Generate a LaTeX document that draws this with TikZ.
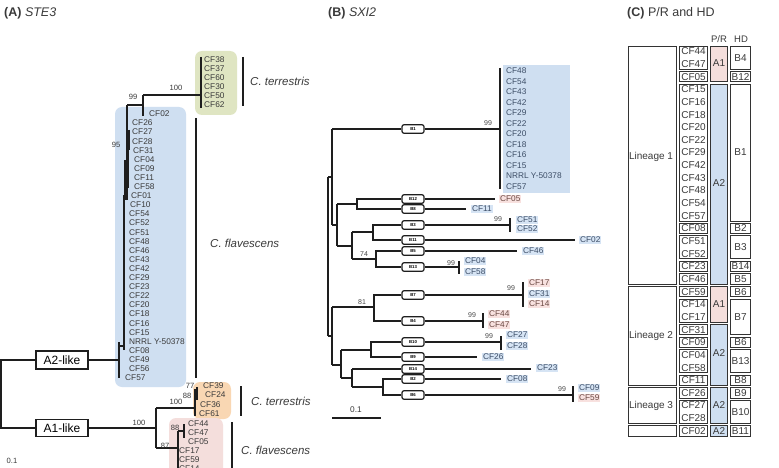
\documentclass[tikz,border=0pt]{standalone}
\usepackage{fontspec}
\setmainfont{Liberation Sans}
\definecolor{boxblue}{HTML}{CFDFF1}
\definecolor{boxgreen}{HTML}{DFE5C2}
\definecolor{boxorange}{HTML}{F9D7B3}
\definecolor{boxpink}{HTML}{F4DEDC}
\definecolor{hlblue}{HTML}{D6E4F4}
\definecolor{hlpink}{HTML}{F8E1DF}
\definecolor{txt}{HTML}{3A3A3A}
\definecolor{txtblue}{HTML}{3C4D66}
\definecolor{txtpink}{HTML}{6B4A44}
\definecolor{lineg}{HTML}{1E1E1E}
\definecolor{bsgray}{HTML}{4A4A4A}
\definecolor{cellline}{HTML}{333333}
\begin{document}
\begin{tikzpicture}[x=1pt,y=-1pt,
  treeA/.style={line width=1.1pt, draw=lineg},
  treeB/.style={line width=1.5pt, draw=lineg},
  lblA/.style={anchor=west, inner sep=0pt, font=\fontsize{8.3}{9}\selectfont, text=txt},
  lblB/.style={anchor=west, inner sep=0.9pt, font=\fontsize{8.3}{9}\selectfont},
  bsA/.style={inner sep=0pt, font=\fontsize{7.6}{8}\selectfont, text=txt},
  bsB/.style={inner sep=0pt, font=\fontsize{7}{8}\selectfont, text=bsgray},
  hbox/.style={draw=lineg, line width=1.2pt, fill=white, rounded corners=2pt, minimum width=22pt, minimum height=8.5pt, inner sep=0pt, font=\fontsize{4.3}{5}\selectfont\bfseries},
  likebox/.style={draw=lineg, line width=1.5pt, fill=white, minimum width=52pt, inner sep=0pt, font=\fontsize{12}{13}\selectfont},
  species/.style={anchor=west, inner sep=0pt, font=\fontsize{11.5}{12}\selectfont\itshape, text=txt},
  ttl/.style={anchor=west, inner sep=0pt, font=\fontsize{12.5}{13}\selectfont, text=txt},
  sbar/.style={line width=2.4pt, draw=lineg},
  cell/.style={draw=cellline, line width=1pt},
  ctext/.style={inner sep=0pt, font=\fontsize{10}{11}\selectfont, text=txt}
]
\useasboundingbox (0,0) rectangle (779,468);
\fill[white] (0,0) rectangle (779,468);
\begin{scope}
\clip (0,0) rectangle (779,468);

% ================= titles
\node[ttl] (tA) at (4,13) {\textbf{(A)} \textit{STE3}};
\node[ttl] (tB) at (328,13) {\textbf{(B)} \textit{SXI2}};
\node[ttl] (tC) at (627,13) {\textbf{(C)} P/R and HD};

% ================= PANEL A
\fill[boxblue, rounded corners=7pt] (115,107) rectangle (186,387);
\fill[boxgreen, rounded corners=7pt] (195,51) rectangle (237,115);
\fill[boxorange, rounded corners=7pt] (193,382) rectangle (231,419);
\fill[boxpink, rounded corners=7pt] (169,418) rectangle (223,490);

% green clade labels
\foreach \t [count=\i] in {CF38,CF37,CF60,CF30,CF50,CF62}
  \node[lblA] (ag\i) at (204,{60+9*(\i-1)}) {\t};
% blue clade labels
\foreach \t/\x [count=\i] in {CF26/132,CF27/132,CF28/132,CF31/133,CF04/134,CF09/134,CF11/134,CF58/134,CF01/131,CF10/130,CF54/129,CF52/129,CF51/129,CF48/129,CF46/129,CF43/129,CF42/129,CF29/129,CF23/129,CF22/129,CF20/129,CF18/129,CF16/129,CF15/129,NRRL Y-50378/129,CF08/129,CF49/129,CF56/129,CF57/125}
  \node[lblA] (ab\i) at (\x,{123+9.1*(\i-1)}) {\t};
\node[lblA] (acf02) at (149,114) {CF02};
% orange clade labels
\node[lblA] (ao1) at (203,386) {CF39};
\node[lblA] (ao2) at (205,395) {CF24};
\node[lblA] (ao3) at (200,405) {CF36};
\node[lblA] (ao4) at (199,414) {CF61};
% pink clade labels
\node[lblA] (ap1) at (188,424) {CF44};
\node[lblA] (ap2) at (188,433) {CF47};
\node[lblA] (ap3) at (188,442) {CF05};
\node[lblA] (ap4) at (179,451) {CF17};
\node[lblA] (ap5) at (179,460) {CF59};
\node[lblA] (ap6) at (179,469) {CF14};

% like boxes
\node[likebox, minimum height=18pt] (A2) at (62,360) {A2-like};
\node[likebox, minimum height=17pt] (A1) at (62,428) {A1-like};

% tree A
\coordinate (aroot) at (1,394);
\draw[treeA] (A2.west) -| (aroot) |- (A1.west);
\coordinate (aflav) at (119,360);
\draw[treeA] (A2.east) -- (aflav);
\draw[treeA] (119,342) -- (119,378);
\draw[treeA] (119,346) -- (124,346);
\draw[treeA] (124,350) -- (124,196) -- (127,196);
\draw[treeA] (127,200) -- (127,105);
\coordinate (a99) at (127,105);
\coordinate (a143) at (143,105);
\draw[treeA] (a99) -- (a143);
\draw[treeA] (143,95) -- (143,116);
\draw[treeA] (143,95) -- (201,95);
\draw[treeA] (201,57) -- (201,108);
\draw[line width=2.2pt, lineg] (129,130) -- (129,150);
\draw[line width=1.6pt, lineg] (128,150) -- (128,188);
\draw[line width=1.4pt, lineg] (125,160) -- (125,200);
\draw[treeA] (127,140) -- (129,140);
% bootstrap A
\node[bsA] (bs1) at (176,88) {100};
\node[bsA] (bs2) at (133,97) {99};
\node[bsA] (bs3) at (116,145) {95};
% A1 part
\coordinate (a156) at (156,428);
\draw[treeA] (A1.east) -- (a156);
\draw[treeA] (156,408) -- (156,448);
\draw[treeA] (156,408) -- (195,408);
\draw[treeA] (195,389) -- (195,416);
\draw[line width=1.4pt, lineg] (197,387) -- (197,400);
\draw[treeA] (195,396) -- (197,396);
\draw[treeA] (156,448) -- (178,448);
\draw[treeA] (178,431) -- (178,480);
\draw[treeA] (178,431) -- (184,431);
\draw[treeA] (184,424) -- (184,438);
\node[bsA] (bs4) at (139,423) {100};
\node[bsA] (bs5) at (176,402) {100};
\node[bsA] (bs6) at (190,386) {77};
\node[bsA] (bs7) at (187,396) {88};
\node[bsA] (bs8) at (175,428) {88};
\node[bsA] (bs9) at (165,446) {87};
\node[bsA] (scaleA) at (12,461) {0.1};

% species bars A
\draw[sbar] (243,57) -- (243,106);
\node[species] (sp1) at (250,81) {C. terrestris};
\draw[sbar] (196,118) -- (196,378);
\node[species] (sp2) at (210,243) {C. flavescens};
\draw[sbar] (241,386) -- (241,416);
\node[species] (sp3) at (251,401) {C. terrestris};
\draw[sbar] (232,422) -- (232,480);
\node[species] (sp4) at (241,450) {C. flavescens};

% ================= PANEL B
\fill[boxblue] (503,65) rectangle (570,193);
\foreach \t [count=\i] in {CF48,CF54,CF43,CF42,CF29,CF22,CF20,CF18,CF16,CF15,NRRL Y-50378,CF57}
  \node[lblB, text=txtblue] (bb\i) at (505,{71+10.5*(\i-1)}) {\t};
\draw[treeB] (500,68) -- (500,189);

% highlighted tip labels
\foreach \t/\x/\y/\c [count=\i] in {CF05/499/199/pink, CF11/471/209/blue, CF51/516/220/blue, CF52/516/229/blue, CF02/579/240/blue, CF46/522/251/blue, CF04/464/261/blue, CF58/464/272/blue, CF17/528/283/pink, CF31/528/294/blue, CF14/528/304/pink, CF44/488/314/pink, CF47/488/325/pink, CF27/506/335/blue, CF28/506/346/blue, CF26/482/357/blue, CF23/536/368/blue, CF08/506/379/blue, CF09/578/388/blue, CF59/578/398/pink}
  \node[lblB, fill=hl\c, text=txt\c] (bt\i) at (\x,\y) {\t};

% HD boxes
\foreach \n/\y in {1/129, 12/199, 8/209, 3/225, 11/240, 5/251, 13/267, 7/295, 4/321, 10/342, 9/357, 14/369, 2/379, 6/395}
  \node[hbox] (hb\n) at (413,\y) {B\n};

% tree B
\coordinate (rt) at (328,256);
\draw[treeB] (328,177) -- (328,336);
\draw[treeB] (328,177) -- (332,177);
\draw[treeB] (332,129) -- (332,225);
\draw[treeB] (332,129) -- (hb1.west);
\draw[treeB] (hb1.east) -- (500,129);
\draw[treeB] (332,225) -- (337,225);
\draw[treeB] (337,204) -- (337,246);
\draw[treeB] (337,204) -- (357,204);
\draw[treeB] (hb12.west) -| (357,204) |- (hb8.west);
\draw[treeB] (hb12.east) -- (495,199);
\draw[treeB] (hb8.east) -- (466,209);
\draw[treeB] (337,246) -- (352,246);
\draw[treeB] (352,232) -- (352,259);
\draw[treeB] (352,232) -- (373,232);
\draw[treeB] (hb3.west) -| (373,232) |- (hb11.west);
\draw[treeB] (hb3.east) -- (510,225);
\draw[treeB] (hb11.east) -- (575,240);
\draw[treeB] (352,259) -- (376,259);
\draw[treeB] (hb5.west) -| (376,259) |- (hb13.west);
\draw[treeB] (hb5.east) -- (517,251);
\draw[treeB] (hb13.east) -- (459,267);
\draw[treeB] (328,336) -- (332,336);
\draw[treeB] (332,307) -- (332,365);
\draw[treeB] (332,307) -- (374,307);
\draw[treeB] (hb7.west) -| (374,307) |- (hb4.west);
\draw[treeB] (hb7.east) -- (523,295);
\draw[treeB] (hb4.east) -- (483,321);
\draw[treeB] (332,365) -- (341,365);
\draw[treeB] (341,350) -- (341,378);
\draw[treeB] (341,350) -- (371,350);
\draw[treeB] (hb10.west) -| (371,350) |- (hb9.west);
\draw[treeB] (hb10.east) -- (501,342);
\draw[treeB] (hb9.east) -- (477,357);
\draw[treeB] (341,378) -- (352,378);
\draw[treeB] (352,369) -- (352,387);
\draw[treeB] (352,369) -- (hb14.west);
\draw[treeB] (hb14.east) -- (531,369);
\draw[treeB] (352,387) -- (383,387);
\draw[treeB] (hb2.west) -| (383,387) |- (hb6.west);
\draw[treeB] (hb2.east) -- (501,379);
\draw[treeB] (hb6.east) -- (573,395);
% tip ticks
\draw[treeB] (510,218) -- (510,232);
\draw[treeB] (459,261) -- (459,274);
\draw[treeB] (523,282) -- (523,307);
\draw[treeB] (483,313) -- (483,328);
\draw[treeB] (501,336) -- (501,350);
\draw[treeB] (573,386) -- (573,402);
% bootstrap B
\node[bsB] (bb99a) at (488,123) {99};
\node[bsB] (bb99b) at (498,219) {99};
\node[bsB] (bb99c) at (451,263) {99};
\node[bsB] (bb99d) at (511,288) {99};
\node[bsB] (bb99e) at (472,315) {99};
\node[bsB] (bb99f) at (489,336) {99};
\node[bsB] (bb99g) at (562,389) {99};
\node[bsB] (bb74) at (364,254) {74};
\node[bsB] (bb81) at (362,302) {81};
% scale B
\node[bsA, font=\fontsize{8.3}{9}\selectfont] (scaleB) at (356,410) {0.1};
\draw[line width=2.5pt, lineg] (332,418) -- (381,418);

% ================= PANEL C
\node[ctext, font=\fontsize{9.5}{10}\selectfont] (hPR) at (719,39) {P/R};
\node[ctext, font=\fontsize{9.5}{10}\selectfont] (hHD) at (741,39) {HD};
% P/R fills and cells
\foreach \a/\b/\c in {0/3/boxpink, 3/19/boxblue, 19/22/boxpink, 22/27/boxblue, 27/30/boxblue, 30/31/boxblue}{
  \pgfmathsetmacro\ya{45+12.65*\a+1.1}
  \pgfmathsetmacro\yb{45+12.65*\b-1.1}
  \draw[cell, fill=\c] (710.1,\ya) rectangle (727.9,\yb);
}
% lineage cells
\foreach \a/\b in {0/19, 19/27, 27/30, 30/31}{
  \pgfmathsetmacro\ya{45+12.65*\a+1.1}
  \pgfmathsetmacro\yb{45+12.65*\b-1.1}
  \draw[cell] (628.1,\ya) rectangle (676.9,\yb);
}
% name cells
\foreach \a/\b in {0/2,2/3,3/14,14/15,15/17,17/18,18/19,19/20,20/22,22/23,23/24,24/26,26/27,27/28,28/30,30/31}{
  \pgfmathsetmacro\ya{45+12.65*\a+1.1}
  \pgfmathsetmacro\yb{45+12.65*\b-1.1}
  \draw[cell] (679.1,\ya) rectangle (707.9,\yb);
}
% HD cells
\foreach \a/\b/\t [count=\i] in {0/2/B4,2/3/B12,3/14/B1,14/15/B2,15/17/B3,17/18/B14,18/19/B5,19/20/B6,20/23/B7,23/24/B6,24/26/B13,26/27/B8,27/28/B9,28/30/B10,30/31/B11}{
  \pgfmathsetmacro\ya{45+12.65*\a+1.1}
  \pgfmathsetmacro\yb{45+12.65*\b-1.1}
  \pgfmathsetmacro\ym{45+12.65*(\a+\b)/2}
  \draw[cell] (730.1,\ya) rectangle (750.9,\yb);
  \node[ctext] (hd\i) at (740.5,\ym) {\t};
}
% names
\foreach \t [count=\i] in {CF44,CF47,CF05,CF15,CF16,CF18,CF20,CF22,CF29,CF42,CF43,CF48,CF54,CF57,CF08,CF51,CF52,CF23,CF46,CF59,CF14,CF17,CF31,CF09,CF04,CF58,CF11,CF26,CF27,CF28,CF02}
  \node[ctext] (cn\i) at (693.5,{45+12.65*(\i-0.5)}) {\t};
% P/R texts
\node[ctext] (pr1) at (719,63) {A1};
\node[ctext] (pr2) at (719,183) {A2};
\node[ctext] (pr3) at (719,304) {A1};
\node[ctext] (pr4) at (719,353) {A2};
\node[ctext] (pr5) at (719,405) {A2};
\node[ctext] (pr6) at (719,431) {A2};
% lineage texts
\node[ctext] (ln1) at (651,157) {Lineage 1};
\node[ctext] (ln2) at (651,336) {Lineage 2};
\node[ctext] (ln3) at (651,406) {Lineage 3};
\end{scope}
\end{tikzpicture}
\end{document}
